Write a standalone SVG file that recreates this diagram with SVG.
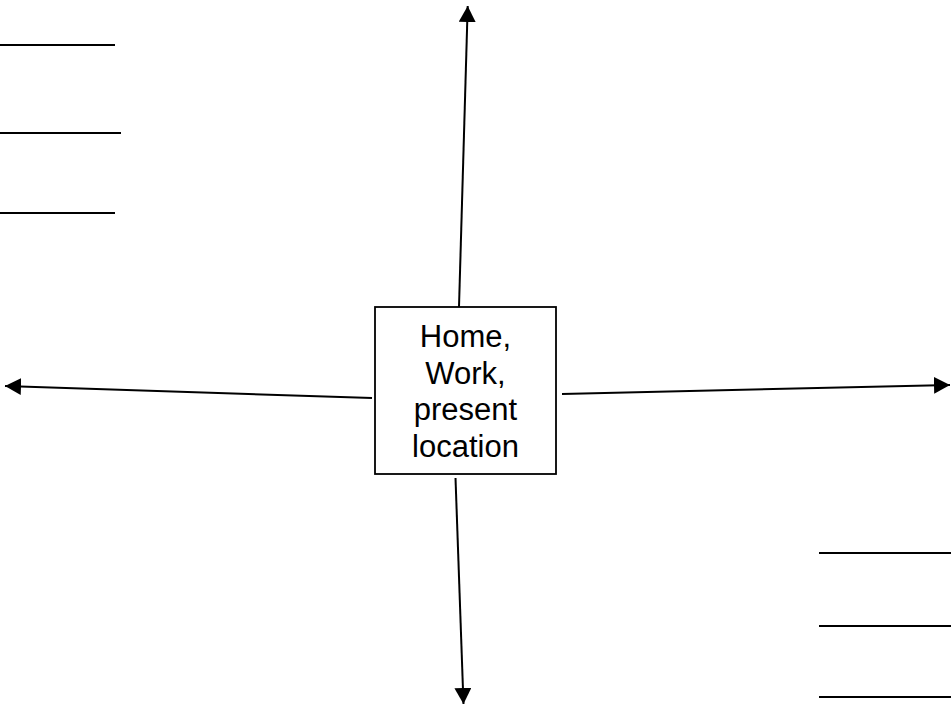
<svg xmlns="http://www.w3.org/2000/svg" width="951" height="706" viewBox="0 0 951 706">
<style>
.ln{stroke:#000;stroke-width:2;fill:none}
.rule{stroke:#000;stroke-width:2}
.box{fill:#fff;stroke:#000;stroke-width:1.8}
.lbl{font-family:"Liberation Sans",Arial,sans-serif;font-size:31px;fill:#000;text-anchor:middle}
</style>
<defs>
<marker id="ah" markerUnits="userSpaceOnUse" markerWidth="17" markerHeight="17" viewBox="0 0 17 17" refX="16" refY="8.5" orient="auto">
<path d="M0,0 L16,8.5 L0,17 z" fill="#000"/>
</marker>
</defs>
<g id="rules">
<line class="rule" x1="0" y1="45" x2="115" y2="45"/>
<line class="rule" x1="0" y1="133" x2="121" y2="133"/>
<line class="rule" x1="0" y1="213" x2="115" y2="213"/>
<line class="rule" x1="819" y1="553" x2="951" y2="553"/>
<line class="rule" x1="819" y1="626" x2="951" y2="626"/>
<line class="rule" x1="819" y1="697" x2="951" y2="697"/>
</g>
<g id="connectors">
<line class="ln" x1="459" y1="307" x2="467.7" y2="6" marker-end="url(#ah)"/>
<line class="ln" x1="372" y1="398" x2="5" y2="386" marker-end="url(#ah)"/>
<line class="ln" x1="562" y1="394" x2="950" y2="385" marker-end="url(#ah)"/>
<line class="ln" x1="455.5" y1="478" x2="463.5" y2="704" marker-end="url(#ah)"/>
</g>
<g id="center">
<rect class="box" x="375" y="307" width="181" height="167"/>
<text class="lbl" x="465.5" y="347">Home,</text>
<text class="lbl" x="465.5" y="383.5">Work,</text>
<text class="lbl" x="465.5" y="420">present</text>
<text class="lbl" x="465.5" y="456.5">location</text>
</g>
</svg>
